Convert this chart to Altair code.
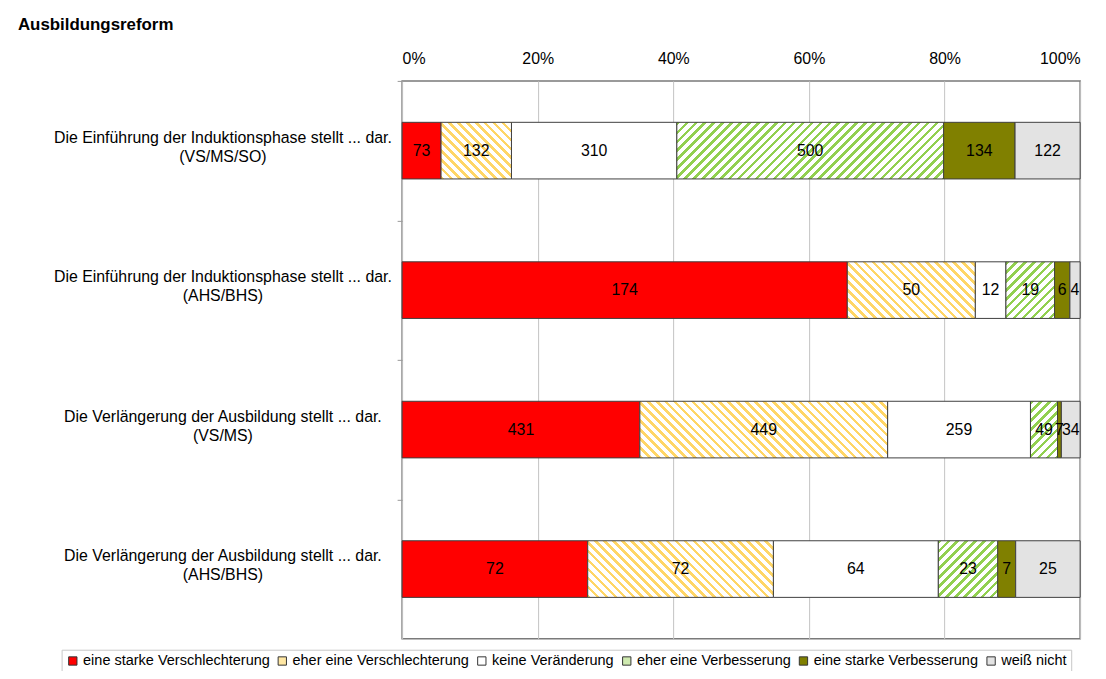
import altair as alt
import pandas as pd

# ---------------- data ----------------
questions = [
    "Die Einführung der Induktionsphase stellt ... dar.|(VS/MS/SO)",
    "Die Einführung der Induktionsphase stellt ... dar.|(AHS/BHS)",
    "Die Verlängerung der Ausbildung stellt ... dar.|(VS/MS)",
    "Die Verlängerung der Ausbildung stellt ... dar.|(AHS/BHS)",
]
categories = [
    "eine starke Verschlechterung",
    "eher eine Verschlechterung",
    "keine Veränderung",
    "eher eine Verbesserung",
    "eine starke Verbesserung",
    "weiß nicht",
]
starke_verschlechterung = [73, 174, 431, 72]
eher_verschlechterung = [132, 50, 449, 72]
keine_veraenderung = [310, 12, 259, 64]
eher_verbesserung = [500, 19, 49, 23]
starke_verbesserung = [134, 6, 7, 7]
weiss_nicht = [122, 4, 34, 25]

series = [starke_verschlechterung, eher_verschlechterung, keine_veraenderung,
          eher_verbesserung, starke_verbesserung, weiss_nicht]

# ---------------- styling ----------------
FONT = "Liberation Sans"
W, H = 683, 562
STEP = H / 4
BAR_FRAC = 0.406
PAD_INNER = 1 - BAR_FRAC
BAR_H = STEP * BAR_FRAC
TICK_OFF = -(PAD_INNER / 2) * STEP

solid_colors = ["#FF0000", "#FFE7A3", "#FFFFFF", "#CFEAB0", "#808000", "#E3E3E3"]
hatch_colors = {"eher eine Verschlechterung": ("#FFD666", "down"),
                "eher eine Verbesserung": ("#92D050", "up")}

rows = []
for qi, q in enumerate(questions):
    for ci, c in enumerate(categories):
        rows.append({"question": q, "category": c, "order": ci, "value": series[ci][qi]})
df = pd.DataFrame(rows)
totals = {q: sum(s[qi] for s in series) for qi, q in enumerate(questions)}


def hatch(w, h, color, direction, period=9.0, frac=0.4):
    s = (w + h) / (w * w + h * h)
    if direction == "down":
        x1, y1, x2, y2 = 0, 1, w * s, 1 - h * s
    else:
        x1, y1, x2, y2 = 0, 0, w * s, h * s
    n = max(1.0, (w + h) / period)
    stops = []
    k = 0
    while k < n:
        a = k / n
        b = min((k + frac) / n, 1.0)
        c = min((k + 1) / n, 1.0)
        stops += [alt.GradientStop(offset=a, color=color),
                  alt.GradientStop(offset=b, color=color),
                  alt.GradientStop(offset=b, color="#FFFFFF"),
                  alt.GradientStop(offset=c, color="#FFFFFF")]
        k += 1
    return alt.LinearGradient(gradient="linear", stops=stops, x1=x1, y1=y1, x2=x2, y2=y2)


base = alt.Chart(df).transform_stack(
    stack="value", as_=["x0", "x1"], groupby=["question"],
    sort=[alt.SortField("order", order="ascending")], offset="normalize"
).encode(
    y=alt.Y("question:N", sort=questions, title=None,
            scale=alt.Scale(paddingInner=PAD_INNER, paddingOuter=PAD_INNER / 2),
            axis=alt.Axis(labelExpr="split(datum.label, '|')", labelAlign="center",
                          labelBaseline="middle", labelPadding=176,
                          bandPosition=0, tickOffset=TICK_OFF,
                          labelOffset=28.5,
                          labelFontSize=16, labelFont=FONT, labelColor="#000000",
                          labelLineHeight=19, labelLimit=600, tickSize=5,
                          tickColor="#999999", domain=False, grid=False)),
    x=alt.X("x0:Q", title=None, scale=alt.Scale(domain=[0, 1], nice=False),
            axis=alt.Axis(orient="top", format="%", values=[0, 0.2, 0.4, 0.6, 0.8, 1.0],
                          ticks=False, domain=False, labelPadding=15, labelFontSize=16,
                          labelFont=FONT, labelColor="#000000", grid=True,
                          gridColor="#C4C4C4", gridWidth=1)),
    x2="x1:Q",
)

solid = base.transform_filter(
    alt.FieldOneOfPredicate(field="category", oneOf=[categories[i] for i in (0, 2, 4, 5)])
).mark_bar(stroke="#404040", strokeWidth=1).encode(
    color=alt.Color("category:N", scale=alt.Scale(domain=categories, range=solid_colors),
                    title=None,
                    legend=alt.Legend(orient="none", direction="horizontal", columns=6,
                                      legendX=-343, legendY=573,
                                      symbolType="square", symbolSize=70,
                                      symbolStrokeColor="#333333", symbolStrokeWidth=1,
                                      labelFont=FONT, labelFontSize=14.6, labelColor="#000000",
                                      labelOffset=3, columnPadding=5, padding=4,
                                      strokeColor="#C8C8C8", fillColor="#FFFFFF",
                                      labelLimit=400))
)

layers = [solid]
for qi, q in enumerate(questions):
    for cat, (col, direction) in hatch_colors.items():
        ci = categories.index(cat)
        w = series[ci][qi] / totals[q] * W
        grad = hatch(w, BAR_H, col, direction)
        layers.append(
            base.transform_filter(
                (alt.datum.question == q) & (alt.datum.category == cat)
            ).mark_bar(fill=grad, stroke="#404040", strokeWidth=1)
        )

labels = base.transform_calculate(mid="(datum.x0 + datum.x1) / 2").mark_text(
    font=FONT, fontSize=16, color="#000000", align="center", baseline="middle"
).encode(x=alt.X("mid:Q"), x2=alt.X2("mid:Q"), text="value:Q")

chart = alt.layer(*layers, labels).properties(
    width=W, height=H,
    autosize=alt.AutoSizeParams(type="none"),
    padding={"left": 397, "top": 71, "right": 18, "bottom": 30},
    title=alt.Title("Ausbildungsreform", anchor="start", frame="group", dx=-387,
                    fontSize=17, fontWeight="bold", font=FONT, color="#000000", offset=16),
).configure_view(stroke="#7A7A7A", strokeWidth=1.5)

chart.save("out.html", embed_options={"renderer": "svg", "actions": False})
